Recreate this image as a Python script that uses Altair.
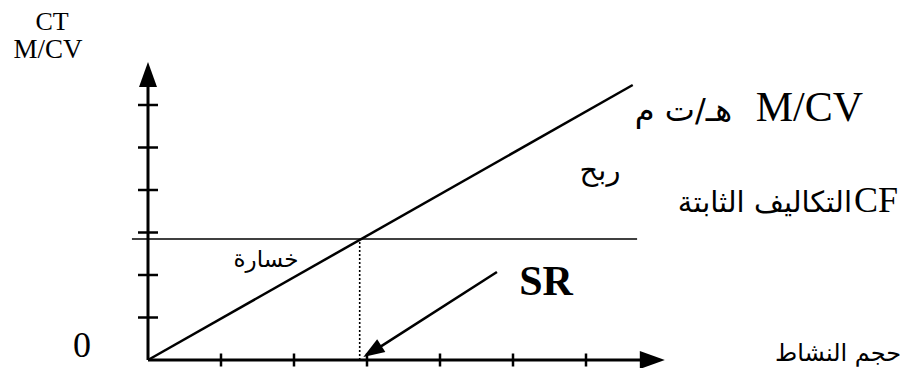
import altair as alt
import pandas as pd

# ---- data (in chart units: x tick step = 1 activity unit, y tick step = 1 cost unit)
x_ticks = [1, 2, 3, 4, 5, 6]
y_ticks = [1, 2, 3, 4, 5, 6]
fixed_cost = 2.85          # CF level
breakeven_x = 2.90         # SR
mcv_line_x = [0, 6.64]
mcv_line_y = [0, 6.47]
cf_line_x = [-0.22, 6.70]
x_axis_end = 7.08
y_axis_end = 7.01
sr_arrow_from = (4.78, 2.07)
sr_arrow_to = (2.95, 0.07)

labels = {
    "ct": "CT",
    "mcv_axis": "M/CV",
    "zero": "0",
    "mcv_line_ar": "هـ/ت م",
    "mcv_line_lat": "M/CV",
    "profit": "ربح",
    "cf_ar": "التكاليف الثابتة",
    "cf_lat": "CF",
    "loss": "خسارة",
    "sr": "SR",
    "activity": "حجم النشاط",
}

W, H = 894, 360
X0, XU = 140, 73.0   # plot-pixel of origin, px per unit
Y0, YU = 352, 42.5
xmin = -X0 / XU
xmax = xmin + W / XU
ymax = Y0 / YU
ymin = ymax - H / YU

xs = alt.Scale(domain=[xmin, xmax], nice=False, zero=False)
ys = alt.Scale(domain=[ymin, ymax], nice=False, zero=False)
X = lambda f: alt.X(f, scale=xs, axis=None)
Y = lambda f: alt.Y(f, scale=ys, axis=None)

# axes lines
axes_df = pd.DataFrame({
    "x": [0, 0], "y": [0, 0],
    "x2": [x_axis_end - 0.3, 0], "y2": [0, y_axis_end - 0.55],
})
axes = alt.Chart(axes_df).mark_rule(color="black", strokeWidth=3).encode(
    x=X("x:Q"), y=Y("y:Q"), x2="x2:Q", y2="y2:Q")

xt = alt.Chart(pd.DataFrame({"x": x_ticks, "y": [0] * len(x_ticks)})).mark_tick(
    orient="vertical", size=13, thickness=2.5, color="black", opacity=1).encode(
    x=X("x:Q"), y=Y("y:Q"))
yt = alt.Chart(pd.DataFrame({"x": [0] * len(y_ticks), "y": y_ticks})).mark_tick(
    orient="horizontal", size=20, thickness=2.5, color="black", opacity=1).encode(
    x=X("x:Q"), y=Y("y:Q"))

mcv = alt.Chart(pd.DataFrame({"x": mcv_line_x, "y": mcv_line_y})).mark_line(
    color="black", strokeWidth=2.5).encode(x=X("x:Q"), y=Y("y:Q"))

cf = alt.Chart(pd.DataFrame({"x": [cf_line_x[0]], "x2": [cf_line_x[1]], "y": [fixed_cost]})).mark_rule(
    color="black", strokeWidth=1.5).encode(x=X("x:Q"), x2="x2:Q", y=Y("y:Q"))

dotted = alt.Chart(pd.DataFrame({"x": [breakeven_x], "y": [0], "y2": [fixed_cost]})).mark_rule(
    color="black", strokeWidth=1.6, strokeDash=[2, 2]).encode(x=X("x:Q"), y=Y("y:Q"), y2="y2:Q")

sr = alt.Chart(pd.DataFrame({"x": [sr_arrow_from[0]], "y": [sr_arrow_from[1]],
                             "x2": [sr_arrow_to[0] + 0.15], "y2": [sr_arrow_to[1] + 0.15]})).mark_rule(
    color="black", strokeWidth=2.5).encode(x=X("x:Q"), y=Y("y:Q"), x2="x2:Q", y2="y2:Q")

heads_df = pd.DataFrame({
    "x": [x_axis_end, 0, sr_arrow_to[0]],
    "y": [0, y_axis_end, sr_arrow_to[1]],
    "ang": [0, 270, 147.6],
    "sz": [2500, 2500, 1800],
})
heads = alt.Chart(heads_df).mark_point(
    shape="M0,0L-1,-0.36L-1,0.36Z", filled=True, color="black", opacity=1, strokeWidth=0).encode(
    x=X("x:Q"), y=Y("y:Q"),
    angle=alt.Angle("ang:Q", scale=None),
    size=alt.Size("sz:Q", scale=None))

SERIF = "Liberation Serif, DejaVu Serif"
AR = "DejaVu Sans"

def txt(key, px, py, size, font, align="center", weight="normal"):
    return alt.Chart(pd.DataFrame({"t": [labels[key]]})).mark_text(
        fontSize=size, font=font, align=align, baseline="alphabetic", fontWeight=weight,
        color="black").encode(x=alt.value(px), y=alt.value(py), text="t:N")

texts = [
    txt("ct", 44, 22, 26, SERIF),
    txt("mcv_axis", 40, 50, 27, SERIF),
    txt("zero", 74, 349, 36, SERIF),
    txt("mcv_line_lat", 855, 113, 42, SERIF, align="right"),
    txt("mcv_line_ar", 724, 113, 32, AR, align="right"),
    txt("profit", 592, 172, 29, AR),
    txt("cf_lat", 890, 204, 36, SERIF, align="right"),
    txt("cf_ar", 844, 204, 29, AR, align="right"),
    txt("loss", 258, 259, 23, AR),
    txt("sr", 538, 287, 42, SERIF, weight="bold"),
    txt("activity", 830, 353, 24, AR),
]

chart = alt.layer(axes, xt, yt, mcv, cf, dotted, sr, heads, *texts).properties(
    width=W, height=H, autosize=alt.AutoSizeParams(type="none"), padding=0
).configure_view(stroke=None)

chart.save("out.html", embed_options={"renderer": "svg", "actions": False})
